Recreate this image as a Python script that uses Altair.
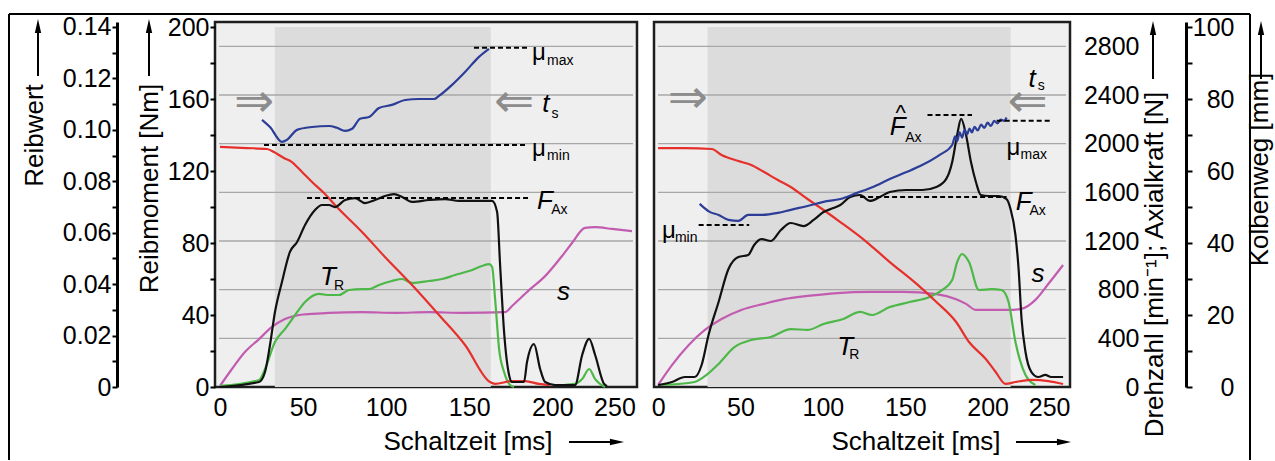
import altair as alt
import pandas as pd

FONT = "Liberation Sans"

# ---------------- axis ticks ----------------
X_TICKS = [0, 50, 100, 150, 200, 250]
NM_TICKS = list(range(0, 201, 20))
MU_TICKS = [round(i * 0.01, 2) for i in range(15)]
RPM_TICKS = list(range(0, 2801, 400))
MM_TICKS = list(range(0, 101, 10))
GRID_RPM = [400, 800, 1200, 1600, 2000, 2400, 2800]

# ---------------- left panel data ----------------
L_SHADE = [33, 163]
L_SPEED_T = [0, 16.3, 28.3, 32.5, 35.5, 38.5, 43.3, 49.4, 55.4, 63.2, 69.2, 85.5, 99.3, 115.6, 131.8, 147.5,
             162.5, 165.6, 175.8, 183.6, 192, 198.5]
L_SPEED = [1973, 1964, 1956, 1931, 1907, 1882, 1849, 1767, 1685, 1586, 1496, 1274, 1069, 838, 592, 345,
           41, 25, 49, 49, 25, 16]
L_FORCE_T = [0, 23.5, 27.1, 30.1, 33.1, 37.3, 42.1, 46.4, 51.2, 57.2, 61.4, 65.6, 69.2, 75.3, 81.3, 87.3,
             93.3, 99.3, 104.8, 109.6, 115.6, 125.8, 135.5, 143.9, 155.9, 163.8, 166.8, 168.6, 171, 174, 175.8,
             183, 184.8, 189, 192.7, 195.7, 201.7, 213.7, 218, 222.2, 225.8, 231.2, 233]
L_FORCE = [0, 41, 123, 345, 616, 863, 1110, 1192, 1332, 1455, 1496, 1496, 1479, 1537, 1553, 1512,
           1537, 1570, 1586, 1562, 1521, 1537, 1545, 1529, 1529, 1529, 1438, 1003, 452, 99, 41,
           41, 205, 353, 148, 41, 16, 16, 263, 395, 263, 25, 8]
L_TORQUE_T = [0, 23.5, 27.1, 33.1, 39.1, 45.2, 51.2, 59.6, 65.6, 71.6, 77.7, 85.5, 89.7, 95.7, 103.5, 109.6,
              115.6, 125.8, 133.7, 141.5, 149.9, 157.7, 162, 163.8, 165.6, 168, 171, 174.6, 177,
              207, 213.7, 218, 222.2, 225.8, 231.8]
L_TORQUE = [0.6, 3.9, 10, 25, 32.2, 40, 47.2, 51.7, 51.1, 51.1, 53.9, 54.4, 54.4, 56.7, 58.9, 60,
            57.8, 58.9, 60, 62.2, 64.4, 67.2, 68.3, 66.7, 48.9, 21.1, 8.3, 1.1, 0,
            1.1, 1.7, 4.4, 10, 4.4, 0]
L_TORQUE_SEG = [0] * 29 + [1] * 6
L_STROKE_T = [0, 7.2, 15, 23.5, 31.3, 39.1, 47.6, 55.4, 65.6, 85.5, 105.4, 125.8, 145.7, 171.6, 175.8,
              186, 195.7, 205.9, 211.9, 219.7, 225.8, 236, 248]
L_STROKE = [0.3, 5, 9.7, 13.3, 16.7, 18.9, 20, 20.3, 20.6, 20.8, 20.6, 20.8, 20.6, 20.8, 22.5,
            26.9, 30.8, 36.4, 40, 44.2, 44.4, 43.9, 43.3]
L_MU_T = [25.3, 30.1, 37.3, 40.3, 46.4, 55.4, 65.6, 70.4, 75.3, 79.5, 84.3, 89.7, 95.7, 103.5, 111.4,
          119.8, 128.8, 131.8, 139.7, 147.5, 155.9, 161.9]
L_MU = [0.1039, 0.1011, 0.0953, 0.0961, 0.1000, 0.1011, 0.1015, 0.1008, 0.0996, 0.1004, 0.1043, 0.1050,
        0.1085, 0.1097, 0.1116, 0.1120, 0.1120, 0.1132, 0.1175, 0.1225, 0.1284, 0.1315]
# reference levels (start, end, value)
L_MU_REF = [(26.5, 184.8, 0.0941), (152.9, 184.8, 0.1319)]
L_F_REF = [(52.4, 185.4, 1553)]

# ---------------- right panel data ----------------
R_SHADE = [30, 214]
R_SPEED_T = [0, 16.2, 32.5, 38.5, 48.7, 56.5, 64.3, 72.7, 80.5, 90.7, 100.4, 110.6, 124.4, 140.6, 156.9,
             168.9, 180.9, 188.7, 198.9, 204.9, 210.9, 216.9, 226.6, 236.8, 245.8]
R_SPEED = [1964, 1964, 1956, 1907, 1857, 1825, 1767, 1701, 1644, 1545, 1455, 1356, 1216, 1027, 847,
           699, 534, 370, 230, 123, 25, 41, 58, 49, 25]
R_FORCE_T = [0, 8.4, 16.2, 22.2, 26.4, 30.6, 36.7, 42.7, 48.7, 54.7, 58.3, 62.5, 68.5, 74.5, 80.5, 88.3,
             94.4, 100.4, 106.4, 110.6, 116.6, 122.6, 128.6, 134.6, 140.6, 150.8, 160.5, 168.9, 174.9,
             178.5, 181.5, 183.9, 186.9, 189.9, 192.9, 195.9, 200.7, 206.7, 211.5, 213.9, 216.9, 218.8,
             220.6, 223, 226.6, 230.8, 235, 238.6, 245.8]
R_FORCE = [16, 41, 82, 82, 181, 427, 699, 970, 1068, 1085, 1167, 1216, 1200, 1290, 1348, 1323,
           1373, 1438, 1471, 1496, 1562, 1578, 1529, 1562, 1603, 1619, 1619, 1644, 1710,
           1849, 2071, 2203, 2071, 1849, 1685, 1578, 1570, 1570, 1545, 1463, 1249, 970,
           559, 288, 123, 82, 99, 82, 82]
R_TORQUE_T = [2.4, 22.2, 29.4, 36.7, 46.3, 56.5, 68.5, 80.5, 90.7, 100.4, 112.4, 122.6, 129.8, 140.6,
              152.6, 164.7, 172.5, 178.5, 181.5, 184.5, 188.7, 194.7, 202.5, 208.5, 212.7, 216.9, 223, 229]
R_TORQUE = [1.1, 2.8, 6.7, 12.8, 22.2, 26.1, 27.8, 32.2, 31.7, 35, 37.8, 41.7, 40, 44.4,
            47.2, 50, 53.9, 59.4, 69.4, 73.9, 69.4, 53.9, 54.4, 53.9, 47.2, 25, 6.7, 1.1]
R_STROKE_T = [0, 8.4, 18.6, 28.2, 38.5, 50.5, 64.3, 76.3, 90.7, 108.8, 128.6, 148.4, 168.9, 180.9,
              186.9, 192.9, 204.9, 212.7, 220.6, 229, 236.8, 245.8]
R_STROKE = [0.6, 6.1, 11.7, 15.8, 18.9, 21.4, 23.1, 24.4, 25.3, 26.1, 26.4, 26.4, 25.8, 24.4,
            23.1, 21.4, 21.4, 21.4, 21.7, 24.2, 28.6, 33.9]
R_MU_T = [25.2, 31.3, 36.7, 42.7, 48.7, 54.7, 62.5, 72.7, 80.5, 90.7, 100.4, 110.6, 120.8, 130.4,
          140.6, 150.8, 160.5, 170.7, 178.5, 180.3, 181.5, 183, 184.5, 186, 187.5, 189, 190.5, 192,
          194, 196, 198, 200, 202, 204, 206, 208, 210, 211.5]
R_MU = [0.0712, 0.0681, 0.0669, 0.0650, 0.0646, 0.0669, 0.0669, 0.0677, 0.0689, 0.0704, 0.0720,
        0.0731, 0.0755, 0.0778, 0.0809, 0.0836, 0.0864, 0.0902, 0.0941, 0.0975, 0.0955, 0.0990,
        0.0970, 0.1000, 0.0982, 0.1005, 0.0990, 0.1012, 0.0998, 0.1020, 0.1008, 0.1028, 0.1015,
        0.1035, 0.1025, 0.1040, 0.1035, 0.1048]
R_MU_REF = [(24.6, 55.3, 0.0630), (205.5, 238.6, 0.1035)]
R_F_REF = [(122.6, 211.5, 1562), (163.5, 190.5, 2236)]

# ---------------- annotations (text, t [ms], level [Nm-scale], kind) ----------------
L_NOTES = [("⇒", 20.5, 157.8, "arrow"), ("⇐", 177, 157.8, "arrow"),
           ("t", 193.9, 152.8, "it"), ("s", 199.6, 149.4, "sub"),
           ("μ", 187.8, 181.7, "mu"), ("max", 196.9, 178.9, "sub"),
           ("μ", 187.8, 128.3, "mu"), ("min", 196.9, 126.1, "sub"),
           ("F", 190.8, 98.9, "it"), ("Ax", 199.4, 96.1, "sub"),
           ("T", 60.2, 56.7, "it"), ("R", 68.6, 53.9, "sub"),
           ("s", 202.9, 48.3, "it")]
R_NOTES = [("⇒", 18, 160, "arrow"), ("⇐", 224.2, 157.8, "arrow"),
           ("t", 224.8, 166.7, "it"), ("s", 230.4, 165, "sub"),
           ("F", 140.6, 140, "it"), ("^", 147.2, 148.6, "hat"), ("Ax", 150.0, 136.1, "sub"),
           ("μ", 211.5, 128.9, "mu"), ("max", 220, 126.7, "sub"),
           ("F", 217, 98.3, "it"), ("Ax", 225.4, 95.6, "sub"),
           ("μ", 2.4, 82.8, "mu"), ("min", 10.2, 80.6, "sub"),
           ("s", 226.6, 58.3, "it"),
           ("T", 108.8, 17.8, "it"), ("R", 116.0, 15.6, "sub")]

# ---------------- layout ----------------
W_L, W_R, H = 422, 416, 365
XD_L = [-3, 251]
XD_R = [-2.5, 250]
DOM = {"Nm": [0, 202.78], "rpm": [0, 3000], "mm": [0, 101.39], "mu": [0, 0.14194]}

RED, BLUE, GREEN, PINK, BLACK = "#e5302c", "#2c3d98", "#4db848", "#c25cb0", "#111111"

X_AXIS = alt.Axis(values=X_TICKS, ticks=False, domain=False, grid=False, labelPadding=8,
                  labelFontSize=25, labelFlush=3, title=None, labelColor="black")


def xe(dom):
    return alt.X("t:Q", scale=alt.Scale(domain=dom, nice=False, zero=False), axis=X_AXIS)


def ye(unit, axis=None, field="v"):
    return alt.Y(f"{field}:Q", scale=alt.Scale(domain=DOM[unit], nice=False, zero=False), axis=axis)


def curve_layer(ts, vs, dom, unit, color, axis=None, segs=None):
    df = pd.DataFrame({"t": ts, "v": vs, "seg": segs if segs is not None else [0] * len(ts)})
    return alt.Chart(df).mark_line(color=color, strokeWidth=2.2, interpolate="monotone").encode(
        x=xe(dom), y=ye(unit, axis), detail="seg:N")


def ref_layer(refs, dom, unit):
    df = pd.DataFrame({"t": [r[0] for r in refs], "t2": [r[1] for r in refs], "v": [r[2] for r in refs]})
    return alt.Chart(df).mark_rule(color="black", strokeWidth=2, strokeDash=[5, 3]).encode(
        x=xe(dom), x2="t2:Q", y=ye(unit))


def shade_layer(shade, dom, axis=None):
    df = pd.DataFrame({"t": [shade[0]], "t2": [shade[1]], "lo": [0], "hi": [200]})
    return alt.Chart(df).mark_rect(color="#dcdcdc").encode(
        x=xe(dom), x2="t2:Q", y=ye("Nm", axis, "lo"), y2="hi:Q")


def grid_layer(width, axis=None):
    return alt.Chart(pd.DataFrame({"v": GRID_RPM})).mark_rule(color="#a8a8a8", strokeWidth=1.3).encode(
        y=ye("rpm", axis), x=alt.value(4), x2=alt.value(width - 4))


def note_layers(notes, dom):
    df = pd.DataFrame({"s": [n[0] for n in notes], "t": [n[1] for n in notes],
                       "v": [n[2] for n in notes], "k": [n[3] for n in notes]})
    base = alt.Chart(df)
    enc = dict(x=xe(dom), y=ye("Nm"), text="s:N")
    it = base.transform_filter("datum.k == 'it'").mark_text(
        align="left", baseline="alphabetic", fontStyle="italic", fontSize=26, color="black").encode(**enc)
    mu = base.transform_filter("datum.k == 'mu'").mark_text(
        align="left", baseline="alphabetic", fontSize=24, color="black").encode(**enc)
    sub = base.transform_filter("datum.k == 'sub'").mark_text(
        align="left", baseline="alphabetic", fontSize=14, color="black").encode(**enc)
    hat = base.transform_filter("datum.k == 'hat'").mark_text(
        align="center", baseline="alphabetic", fontSize=22, color="black").encode(**enc)
    arr = base.transform_filter("datum.k == 'arrow'").mark_text(
        align="center", baseline="middle", fontSize=48, font="DejaVu Sans", color="#8c8c8c").encode(**enc)
    return [it, mu, sub, hat, arr]


ONE = pd.DataFrame({"k": [0]})
UP = "M0,-1L0.45,1L-0.45,1Z"
RIGHT = "M1,0L-1,-0.45L-1,0.45Z"


def up_arrow(xpx, y_tip, y_bot):
    shaft = alt.Chart(ONE).mark_rule(color="black", strokeWidth=2).encode(
        x=alt.value(xpx), y=alt.value(y_bot), y2=alt.value(y_tip + 8))
    head = alt.Chart(ONE).mark_point(shape=UP, filled=True, size=200, color="black", opacity=1,
                                     strokeWidth=0).encode(x=alt.value(xpx), y=alt.value(y_tip + 7))
    return [shaft, head]


def right_arrow(x0, x_tip, ypx):
    shaft = alt.Chart(ONE).mark_rule(color="black", strokeWidth=2).encode(
        x=alt.value(x0), x2=alt.value(x_tip - 8), y=alt.value(ypx))
    head = alt.Chart(ONE).mark_point(shape=RIGHT, filled=True, size=200, color="black", opacity=1,
                                     strokeWidth=0).encode(x=alt.value(x_tip - 7), y=alt.value(ypx))
    return [shaft, head]


def x_title(xc, ypx):
    return alt.Chart(ONE).mark_text(text="Schaltzeit [ms]", fontSize=26, align="center",
                                    baseline="middle", color="black").encode(
        x=alt.value(xc), y=alt.value(ypx))


def hrule(x1, x2, ypx):
    return alt.Chart(ONE).mark_rule(color="black", strokeWidth=2).encode(
        x=alt.value(x1), x2=alt.value(x2), y=alt.value(ypx))


def vrule(xpx, y1, y2):
    return alt.Chart(ONE).mark_rule(color="black", strokeWidth=2).encode(
        x=alt.value(xpx), y=alt.value(y1), y2=alt.value(y2))


TITLE_STYLE = dict(titleFontSize=26, titleFontWeight="normal", titleColor="black", titleAngle=270,
                   titleAlign="center", titleBaseline="middle")

AX_NM = alt.Axis(orient="left", offset=0, values=NM_TICKS,
                 labelExpr="datum.value % 40 == 0 ? datum.label : ''",
                 tickSize=5, tickWidth=2, tickColor="black", domain=False, grid=False,
                 labelPadding=1, labelFontSize=25, labelColor="black",
                 title="Reibmoment [Nm]", titleX=-66, titleY=166, **TITLE_STYLE)
AX_MU = alt.Axis(orient="left", offset=98, values=MU_TICKS,
                 labelExpr="datum.value == 0 ? '0' : (round(datum.value * 100) % 2 == 0 ? format(datum.value, '.2f') : '')",
                 tickSize=5, tickWidth=2, tickColor="black", domain=True, domainColor="black", domainWidth=3,
                 grid=False, labelPadding=1, labelFontSize=25, labelColor="black",
                 title="Reibwert", titleX=-83, titleY=113, **TITLE_STYLE)
AX_RPM = alt.Axis(orient="right", offset=0, values=RPM_TICKS, format="d", ticks=False, tickSize=0,
                  domain=False, grid=False, labelAlign="right", labelPadding=69, labelFontSize=25,
                  labelColor="black",
                  title="Drehzahl [min⁻¹]; Axialkraft [N]", titleX=84, titleY=242, **TITLE_STYLE)
AX_MM = alt.Axis(orient="right", offset=116, values=MM_TICKS,
                 labelExpr="datum.value % 20 == 0 ? datum.label : ''",
                 tickSize=6, tickWidth=2, tickColor="black", domain=True, domainColor="black", domainWidth=3,
                 grid=False, labelAlign="right", labelPadding=42, labelFontSize=25, labelColor="black",
                 title="Kolbenweg [mm]", titleX=73, titleY=147, **TITLE_STYLE)

# ---------------- left panel ----------------
left_layers = [
    shade_layer(L_SHADE, XD_L, AX_NM),
    grid_layer(W_L),
    curve_layer(L_STROKE_T, L_STROKE, XD_L, "mm", PINK),
    curve_layer(L_TORQUE_T, L_TORQUE, XD_L, "Nm", GREEN, segs=L_TORQUE_SEG),
    curve_layer(L_SPEED_T, L_SPEED, XD_L, "rpm", RED),
    curve_layer(L_FORCE_T, L_FORCE, XD_L, "rpm", BLACK),
    curve_layer(L_MU_T, L_MU, XD_L, "mu", BLUE, axis=AX_MU),
    ref_layer(L_MU_REF, XD_L, "mu"),
    ref_layer(L_F_REF, XD_L, "rpm"),
] + note_layers(L_NOTES, XD_L) + up_arrow(-177, -3, 54) + up_arrow(-66, -3, 54) \
  + right_arrow(354, 409, 420) + [x_title(253, 420)] \
  + [hrule(-206, 1035, -8), vrule(-206, -8, 438), vrule(1035, -8, 438)]

left = alt.layer(*left_layers).resolve_scale(y="independent").properties(width=W_L, height=H)

# ---------------- right panel ----------------
right_layers = [
    shade_layer(R_SHADE, XD_R),
    grid_layer(W_R, AX_RPM),
    curve_layer(R_STROKE_T, R_STROKE, XD_R, "mm", PINK, axis=AX_MM),
    curve_layer(R_TORQUE_T, R_TORQUE, XD_R, "Nm", GREEN),
    curve_layer(R_SPEED_T, R_SPEED, XD_R, "rpm", RED),
    curve_layer(R_FORCE_T, R_FORCE, XD_R, "rpm", BLACK),
    curve_layer(R_MU_T, R_MU, XD_R, "mu", BLUE),
    ref_layer(R_MU_REF, XD_R, "mu"),
    ref_layer(R_F_REF, XD_R, "rpm"),
] + note_layers(R_NOTES, XD_R) + up_arrow(499, -1, 57) + up_arrow(607, -1, 57) \
  + right_arrow(362, 417, 420) + [x_title(262, 420)]

right = alt.layer(*right_layers).resolve_scale(y="independent").properties(width=W_R, height=H)

chart = alt.hconcat(left, right, spacing=17, bounds="flush").properties(
    padding={"left": 6, "top": 11, "right": 0, "bottom": 0}
).configure(font=FONT).configure_view(
    stroke="#1e1e1e", strokeWidth=2.5, fill="#efefef"
).configure_axis(labelFont=FONT, titleFont=FONT)

chart.save("out.html", embed_options={"renderer": "svg", "actions": False})
